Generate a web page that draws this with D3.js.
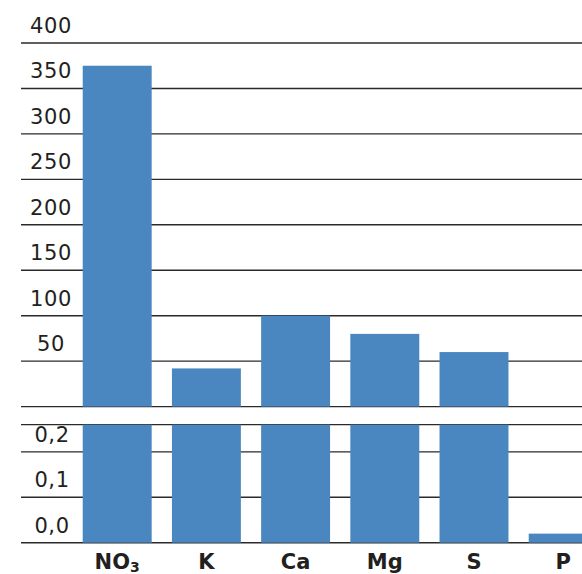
<!DOCTYPE html>
<html>
<head>
<meta charset="utf-8">
<script src="https://cdn.jsdelivr.net/npm/d3@7"></script>
<style>
  html, body { margin: 0; padding: 0; background: #ffffff; }
  svg { display: block; }
</style>
</head>
<body>
<svg id="chart" width="582" height="574"></svg>
<script>
// ---- data ----
const categories = ["NO3", "K", "Ca", "Mg", "S", "P"];
const values = [375, 42, 100, 80, 60, 0.02];
const upperTicks = [0, 50, 100, 150, 200, 250, 300, 350, 400];
const upperTickLabels = ["", "50", "100", "150", "200", "250", "300", "350", "400"];
const lowerTicks = [0, 0.1, 0.2];
const lowerTickLabels = ["0,0", "0,1", "0,2"];
const lowerMax = 0.26;

// ---- layout ----
const gridLeft = 21, gridRight = 582;
const barColor = "#4a87c1";
const lineColor = "#2a2a2a";
const textColor = "#231f20";

const svg = d3.select("#chart");

const x = d3.scaleBand()
  .domain(categories)
  .range([72.6, 72.6 + 6 * 89.2])
  .paddingInner(0.227)
  .paddingOuter(0.1135);

const yUp = d3.scaleLinear().domain([0, 400]).range([406.6, 43]);
const yLow = d3.scaleLinear().domain([0, 0.1]).range([542.7, 497.3]);

// gridlines upper
svg.append("g").selectAll("line").data(upperTicks).join("line")
  .attr("x1", gridLeft).attr("x2", gridRight)
  .attr("y1", d => yUp(d)).attr("y2", d => yUp(d))
  .attr("stroke", lineColor).attr("stroke-width", 1.4);

// gridlines lower (+ panel top border)
svg.append("g").selectAll("line").data(lowerTicks.concat([lowerMax])).join("line")
  .attr("x1", gridLeft).attr("x2", gridRight)
  .attr("y1", d => yLow(d)).attr("y2", d => yLow(d))
  .attr("stroke", lineColor).attr("stroke-width", 1.4);

// bars upper panel
svg.append("g").selectAll("rect")
  .data(categories.map((c, i) => ({c, v: values[i]})).filter(d => d.v > lowerMax))
  .join("rect")
  .attr("x", d => x(d.c)).attr("width", x.bandwidth())
  .attr("y", d => yUp(d.v)).attr("height", d => yUp(0) - yUp(d.v))
  .attr("fill", barColor);

// bars lower panel
svg.append("g").selectAll("rect")
  .data(categories.map((c, i) => ({c, v: Math.min(values[i], lowerMax)})))
  .join("rect")
  .attr("x", d => x(d.c)).attr("width", x.bandwidth())
  .attr("y", d => yLow(d.v)).attr("height", d => yLow(0) - yLow(d.v))
  .attr("fill", barColor);

// y labels
const labelX = 51;
svg.append("g").selectAll("text").data(upperTicks.map((t, i) => ({t, l: upperTickLabels[i]})))
  .join("text")
  .attr("x", labelX).attr("y", d => yUp(d.t) - 10)
  .attr("text-anchor", "middle")
  .attr("font-family", "DejaVu Sans, sans-serif")
  .attr("font-size", 21).attr("letter-spacing", 0.6)
  .attr("fill", textColor)
  .text(d => d.l);

svg.append("g").selectAll("text").data(lowerTicks.map((t, i) => ({t, l: lowerTickLabels[i]})))
  .join("text")
  .attr("x", labelX + 1).attr("y", d => yLow(d.t) - 10)
  .attr("text-anchor", "middle")
  .attr("font-family", "DejaVu Sans, sans-serif")
  .attr("font-size", 21).attr("letter-spacing", 0.6)
  .attr("fill", textColor)
  .text(d => d.l);

// x labels with subscript digits
const xl = svg.append("g").selectAll("text").data(categories).join("text")
  .attr("x", d => x(d) + x.bandwidth() / 2)
  .attr("y", 569)
  .attr("text-anchor", "middle")
  .attr("font-family", "DejaVu Sans, sans-serif")
  .attr("font-weight", "bold")
  .attr("font-size", 21)
  .attr("fill", textColor);
xl.each(function(d) {
  const m = d.match(/^([A-Za-z]+)(\d*)$/);
  const t = d3.select(this);
  t.append("tspan").text(m[1]);
  if (m[2]) t.append("tspan").attr("font-size", 14).attr("dy", 3).text(m[2]);
});
</script>
</body>
</html>
